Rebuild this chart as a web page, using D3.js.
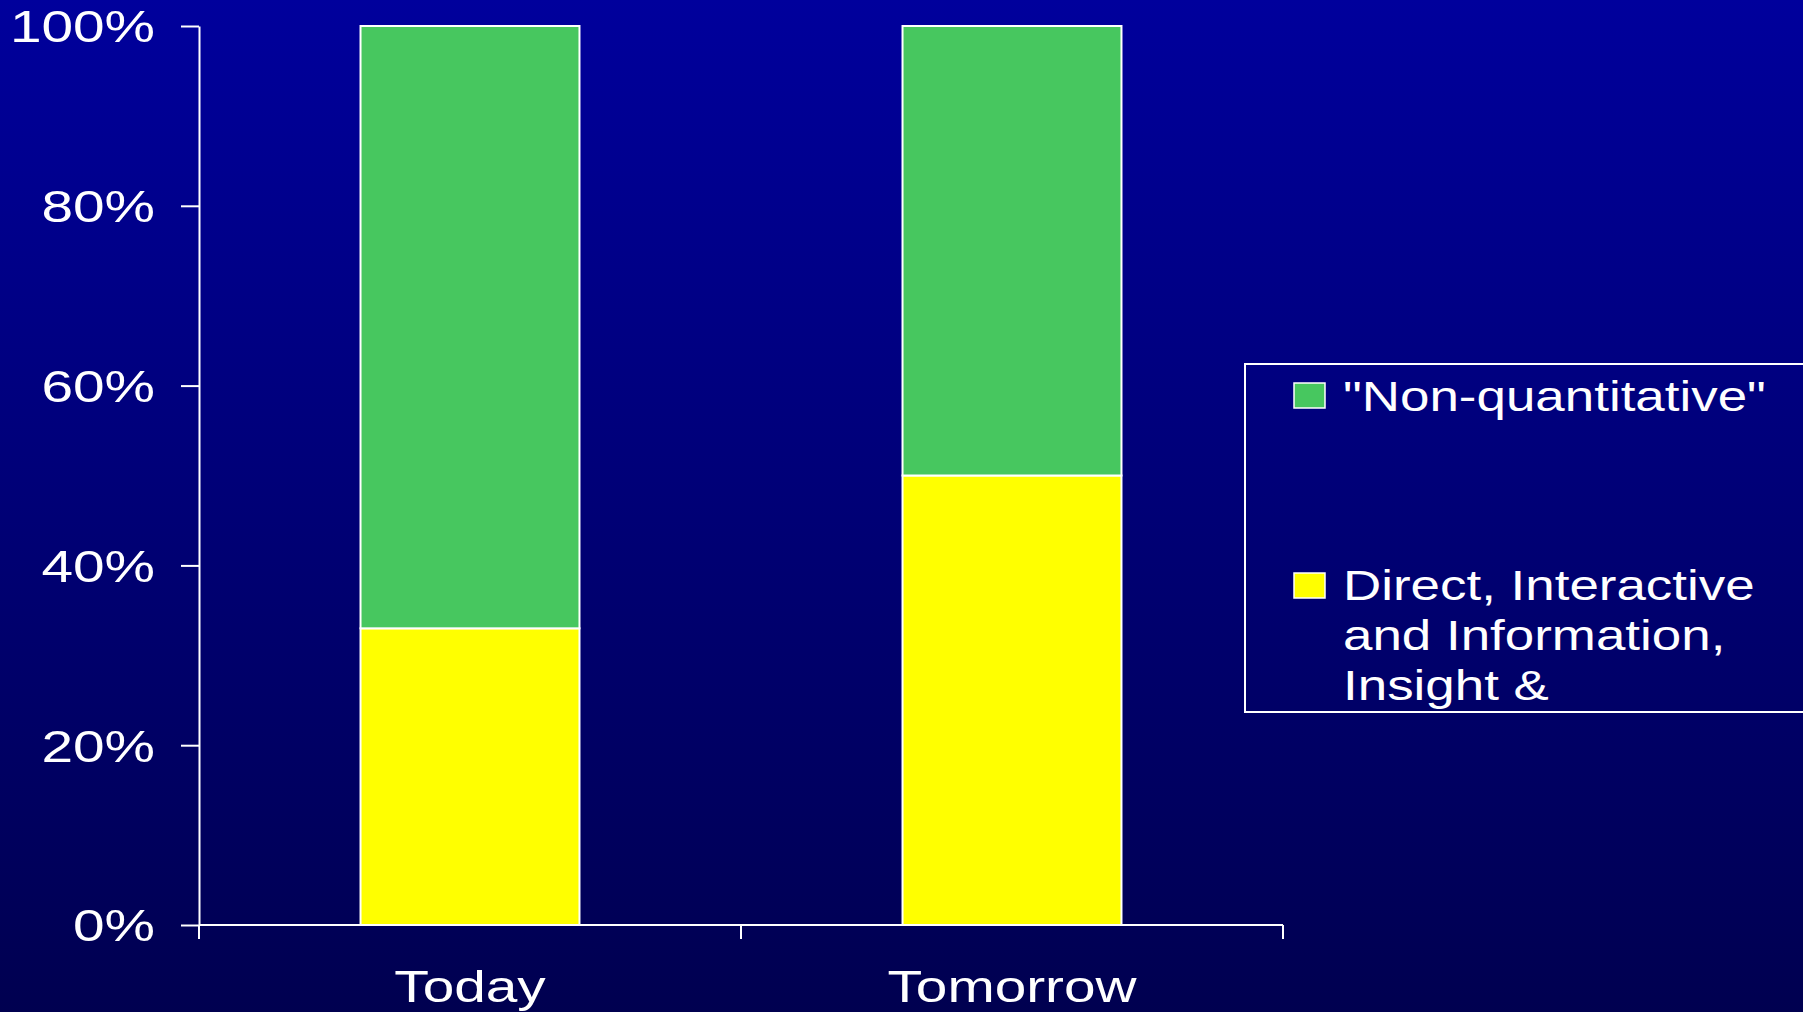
<!DOCTYPE html>
<html>
<head>
<meta charset="utf-8">
<script src="https://cdn.jsdelivr.net/npm/d3@7"></script>
<style>
  html, body { margin: 0; padding: 0; background: #000070; overflow: hidden; }
  svg { display: block; }
  text { font-family: "Liberation Sans", Arial, sans-serif; fill: #ffffff; }
</style>
</head>
<body>
<script>
// Share of work by type, today versus tomorrow (percent of total)
const categories = ["Today", "Tomorrow"];
const directValues = [33, 50];          // Direct, Interactive and Information, Insight &
const nonQuantValues = [67, 50];        // "Non-quantitative"
const yTickValues = [0, 20, 40, 60, 80, 100];
const seriesKeys = ["direct", "nonQuant"];
const seriesColors = ["#ffff00", "#47c75f"];
const legendLabels = [
  ["\"Non-quantitative\""],
  ["Direct, Interactive", "and Information,", "Insight &"]
];
const legendKeys = ["nonQuant", "direct"];

const W = 1803, H = 1012;
const AXIS_STRETCH = 1.29;   // wide lettering on the axes
const LEGEND_STRETCH = 1.26;
const FONT = 44;

const svg = d3.select("body").append("svg")
  .attr("width", W).attr("height", H);

const defs = svg.append("defs");
const grad = defs.append("linearGradient")
  .attr("id", "bg").attr("x1", 0).attr("y1", 0).attr("x2", 0).attr("y2", 1);
grad.append("stop").attr("offset", "0%").attr("stop-color", "#00009c");
grad.append("stop").attr("offset", "100%").attr("stop-color", "#000050");
svg.append("rect").attr("width", W).attr("height", H).attr("fill", "url(#bg)");

const x = d3.scaleBand()
  .domain(categories)
  .range([199, 1283])
  .paddingInner(0.596)
  .paddingOuter(0.298);

const y = d3.scaleLinear().domain([0, 100]).range([925, 26]);

const table = categories.map((c, i) => ({
  category: c, direct: directValues[i], nonQuant: nonQuantValues[i]
}));
const stacked = d3.stack().keys(seriesKeys)(table);

// stacked bars
svg.append("g").selectAll("g")
  .data(stacked)
  .join("g")
  .attr("fill", (d, i) => seriesColors[i])
  .selectAll("rect")
  .data(d => d)
  .join("rect")
  .attr("x", d => x(d.data.category))
  .attr("width", x.bandwidth())
  .attr("y", d => y(d[1]))
  .attr("height", d => y(d[0]) - y(d[1]))
  .attr("stroke", "#ffffff")
  .attr("stroke-width", 2);

// y axis
const yAxis = d3.axisLeft(y)
  .tickValues(yTickValues)
  .tickFormat(d => d + "%")
  .tickSize(18)
  .tickSizeOuter(0)
  .tickPadding(26);

const yg = svg.append("g").attr("transform", "translate(199,0)").call(yAxis);
yg.select(".domain").attr("stroke", "#ffffff").attr("stroke-width", 2);
yg.selectAll(".tick line").attr("stroke", "#ffffff").attr("stroke-width", 2);
yg.selectAll(".tick text")
  .attr("font-size", FONT)
  .attr("font-family", "Liberation Sans, Arial, sans-serif")
  .attr("fill", "#ffffff")
  .attr("x", -44 / AXIS_STRETCH)
  .attr("dy", "0.36em")
  .attr("transform", `scale(${AXIS_STRETCH},1)`);

// x axis: baseline with ticks at category boundaries
const xg = svg.append("g");
const [x0, x1] = x.range();
xg.append("line")
  .attr("x1", x0).attr("x2", x1).attr("y1", y(0)).attr("y2", y(0))
  .attr("stroke", "#ffffff").attr("stroke-width", 2);
const boundaries = d3.range(categories.length + 1).map(i => x0 + i * x.step());
xg.selectAll("line.tick")
  .data(boundaries)
  .join("line")
  .attr("class", "tick")
  .attr("x1", d => d).attr("x2", d => d)
  .attr("y1", y(0)).attr("y2", y(0) + 14)
  .attr("stroke", "#ffffff").attr("stroke-width", 2);
xg.selectAll("text")
  .data(categories)
  .join("text")
  .attr("transform", d => `translate(${x(d) + x.bandwidth() / 2},1002) scale(${AXIS_STRETCH},1)`)
  .attr("text-anchor", "middle")
  .attr("font-size", FONT)
  .text(d => d);

// legend
const legend = svg.append("g");
legend.append("rect")
  .attr("x", 1245).attr("y", 364)
  .attr("width", 600).attr("height", 348)
  .attr("fill", "none")
  .attr("stroke", "#ffffff").attr("stroke-width", 2);

const legendRows = [
  { key: "nonQuant", swatchY: 383, baseline: 411 },
  { key: "direct", swatchY: 573, baseline: 600 }
];
legendRows.forEach(row => {
  const color = seriesColors[seriesKeys.indexOf(row.key)];
  legend.append("rect")
    .attr("x", 1294).attr("y", row.swatchY)
    .attr("width", 31).attr("height", 25)
    .attr("fill", color)
    .attr("stroke", "#ffffff").attr("stroke-width", 1.5);
  const lines = legendLabels[legendKeys.indexOf(row.key)];
  legend.selectAll(null)
    .data(lines)
    .join("text")
    .attr("transform", (d, j) => `translate(1343,${row.baseline + j * 50}) scale(${LEGEND_STRETCH},1)`)
    .attr("font-size", 42)
    .text(d => d);
});
</script>
</body>
</html>
